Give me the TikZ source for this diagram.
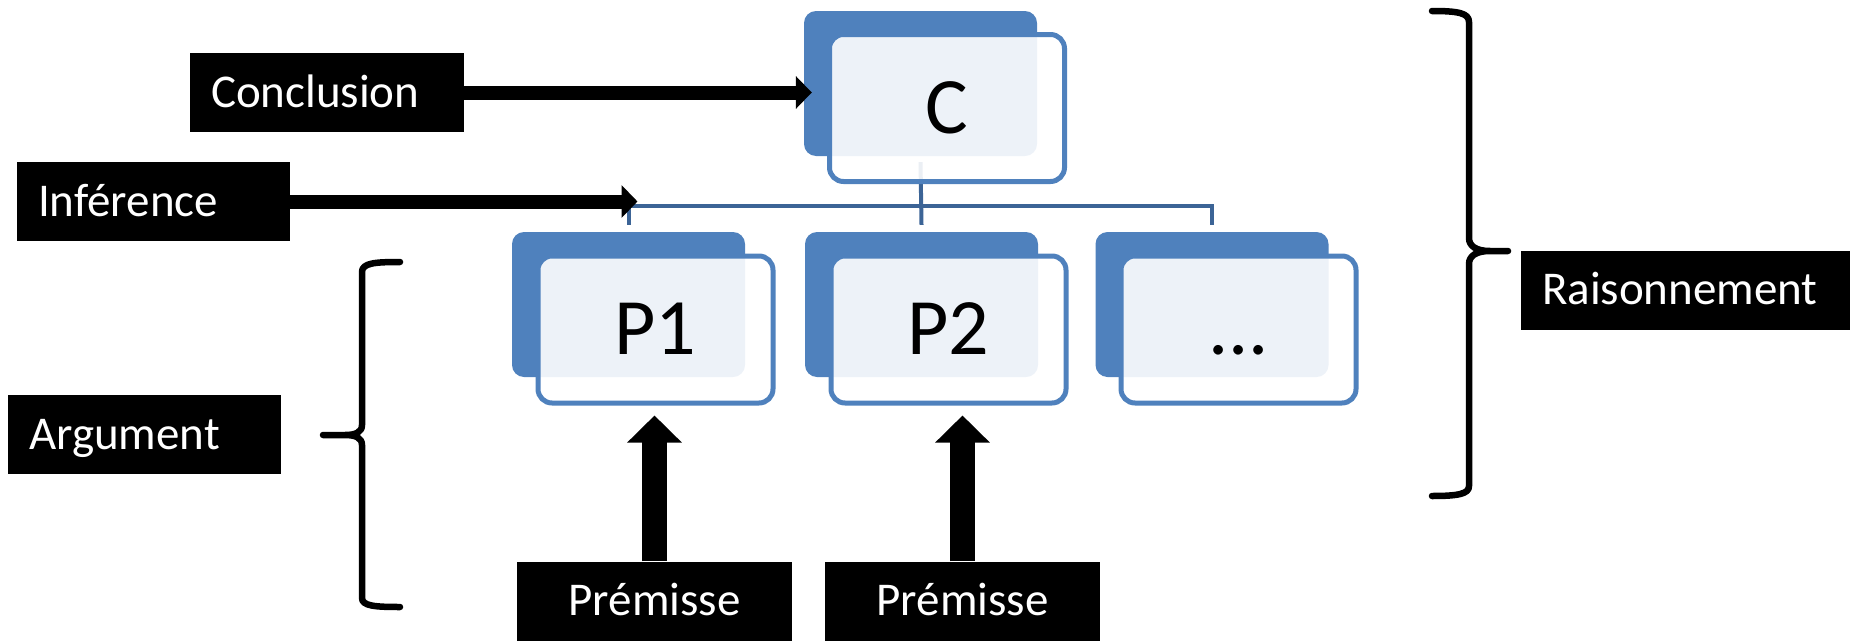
\documentclass[tikz,border=0pt]{standalone}
\usepackage{fontspec}
\setmainfont{Carlito}
\usetikzlibrary{arrows.meta,calc}
\definecolor{acc}{RGB}{79,129,189}
\definecolor{connc}{RGB}{60,100,150}
\pgfdeclarelayer{bg}
\pgfsetlayers{bg,main}
\begin{document}
\begin{tikzpicture}[x=1pt,y=-1pt,
  back/.style={rectangle, fill=acc, rounded corners=12pt, minimum width=233pt, minimum height=145pt, inner sep=0pt},
  front/.style={rectangle, draw=acc, line width=5pt, fill=white, fill opacity=0.9, text opacity=1, rounded corners=14pt, minimum width=235pt, minimum height=147pt, inner sep=0pt, font=\fontsize{80}{96}\selectfont, text height=50.6pt, text depth=0pt},
  lbl/.style={rectangle, fill=black, text=white, inner xsep=21pt, inner ysep=0pt, minimum height=79pt, font=\fontsize{47}{56}\selectfont, text height=29.7pt, text depth=0pt, align=left},
  conn/.style={draw=connc, line width=4pt},
  blkh/.style={line width=14pt, -{Triangle[width=32pt,length=16pt]}},
  blkv/.style={line width=25pt, -{Triangle[width=53pt,length=27pt]}},
  brace/.style={line width=6.5pt, line cap=round, line join=round}]
\useasboundingbox (0,0) rectangle (1850,640);

% boxes
\node[back] (cb) at (920.5,83.5) {};
\node[front] (cf) at (947,108) {C};
\node[back] (p1b) at (628.5,304.5) {};
\node[front] (p1f) at (655.5,329.5) {P1};
\node[back] (p2b) at (921.5,304.5) {};
\node[front] (p2f) at (948.5,329.5) {P2};
\node[back] (db) at (1212,304.5) {};
\node[front] (df) at (1238.5,329.5) {...};

% connectors under boxes
\begin{pgfonlayer}{bg}
\coordinate (bus) at (921,206);
\draw[conn] ($(p1b.north)+(0,-7)$) |- (bus) -| ($(db.north)+(0,-7)$);
\draw[conn] ($(cb.south)+(0,6)$) -- ($(p2b.north)+(0,-7)$);
\end{pgfonlayer}

% labels
\node[lbl, text width=232pt] (concl) at (327,92.5) {Conclusion};
\node[lbl, text width=231pt] (inf) at (153.5,201.5) {Inférence};
\node[lbl, text width=231pt] (arg) at (144.5,434.5) {Argument};
\node[lbl, text width=287pt] (rais) at (1685.5,290) {Raisonnement};
\node[lbl, text width=233pt, align=center] (pr1) at (654.5,601) {Prémisse};
\node[lbl, text width=233pt, align=center] (pr2) at (962.5,601) {Prémisse};

% arrows
\draw[blkh] (concl.east) -- ($(cb.west |- concl.east)+(8,0)$);
\draw[blkh] (inf.east) -- ($(p1b.north |- inf.east)+(9,0)$);
\coordinate (t1) at ($(p1f.south)+(0,10)$);
\coordinate (t2) at ($(p2f.south)+(0,10)$);
\draw[blkv] (pr1.north) -- (pr1.north |- t1);
\draw[blkv] (pr2.north) -- (pr2.north |- t2);

% braces
\draw[brace] (400,262) .. controls (375,262) and (362,263) .. (362,272) -- (362,425)
  .. controls (362,432) and (356,435) .. (345,435) -- (323,435) -- (345,435)
  .. controls (356,435) and (362,438) .. (362,445) -- (362,598)
  .. controls (362,606) and (375,607) .. (400,607);
\draw[brace] (1432,11) .. controls (1458,11) and (1469,13) .. (1469,22) -- (1469,238)
  .. controls (1469,246) and (1476,251) .. (1490,251) -- (1508,251) -- (1490,251)
  .. controls (1476,251) and (1469,256) .. (1469,264) -- (1469,486)
  .. controls (1469,494) and (1458,496) .. (1432,496);
\end{tikzpicture}
\end{document}
